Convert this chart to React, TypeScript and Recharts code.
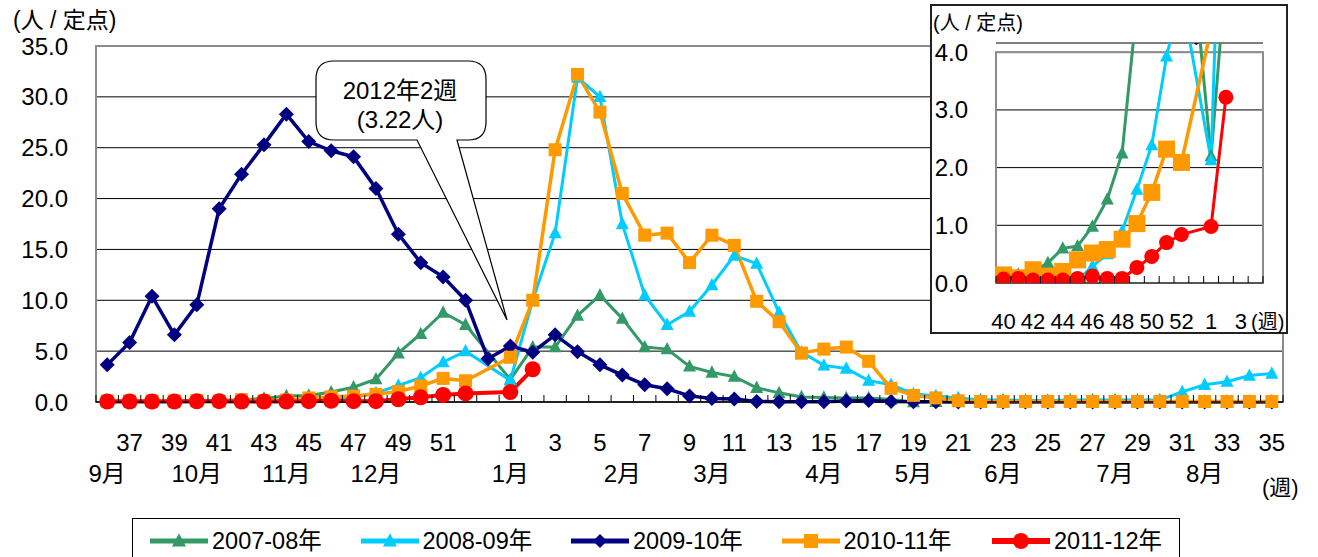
import React from "react";
import {
  ComposedChart,
  Line,
  XAxis,
  YAxis,
  CartesianGrid,
  ReferenceArea,
} from "recharts";

// weeks of the season: 36..53 then 1..35
const weeks = [
  "36", "37", "38", "39", "40", "41", "42", "43", "44", "45", "46", "47", "48", "49", "50", "51", "52", "53",
  "1", "2", "3", "4", "5", "6", "7", "8", "9", "10", "11", "12", "13", "14", "15", "16", "17", "18",
  "19", "20", "21", "22", "23", "24", "25", "26", "27", "28", "29", "30", "31", "32", "33", "34", "35",
];

const weekTickLabels = [
  "37", "39", "41", "43", "45", "47", "49", "51",
  "1", "3", "5", "7", "9", "11", "13", "15", "17", "19", "21", "23", "25", "27", "29", "31", "33", "35",
];

const monthTicks = [
  { week: "36", label: "9月" },
  { week: "40", label: "10月" },
  { week: "44", label: "11月" },
  { week: "48", label: "12月" },
  { week: "1", label: "1月" },
  { week: "6", label: "2月" },
  { week: "10", label: "3月" },
  { week: "15", label: "4月" },
  { week: "19", label: "5月" },
  { week: "23", label: "6月" },
  { week: "28", label: "7月" },
  { week: "32", label: "8月" },
];

const insetWeekLabels = ["40", "42", "44", "46", "48", "50", "52", "1", "3"];

const s0708 = [
  0.1, 0.1, 0.1, 0.1, 0.12, 0.15, 0.2, 0.35, 0.6, 0.64, 0.98, 1.45, 2.25, 4.8, 6.7, 8.8, 7.6, null,
  2.2, 5.4, 5.4, 8.5, 10.5, 8.2, 5.4, 5.2, 3.5, 2.9, 2.5, 1.4, 0.9, 0.5, 0.45, 0.4, 0.4, 0.25,
  0.0, 0.03, 0.03, 0.03, 0.03, 0.03, 0.03, 0.03, 0.03, 0.03, 0.03, 0.03, 0.03, 0.03, 0.03, 0.03, 0.03,
];

const s0809 = [
  0, 0, 0, 0, 0, 0.02, 0, 0.02, 0.05, 0.05, 0.29, 0.5, 0.9, 1.62, 2.39, 3.93, 5.0, null,
  2.13, 10.0, 16.6, 31.9, 30.0, 17.5, 10.5, 7.6, 8.9, 11.5, 14.4, 13.6, 8.8, 4.9, 3.6, 3.3, 2.1, 1.7,
  0.8, 0.6, 0.4, 0.2, 0.2, 0.15, 0.15, 0.2, 0.2, 0.2, 0.2, 0.2, 1.0, 1.7, 2.0, 2.6, 2.8,
];

const s0910 = [
  3.65, 5.85, 10.4, 6.6, 9.55, 19.0, 22.4, 25.3, 28.3, 25.6, 24.7, 24.1, 21.0, 16.5, 13.7, 12.3, 10.0, 4.25,
  5.5, 4.9, 6.6, 4.95, 3.65, 2.65, 1.7, 1.3, 0.6, 0.35, 0.3, 0.05, 0.02, 0.02, 0.02, 0.1, 0.15, 0.05,
  0.02, 0.02, 0, 0, 0, 0, 0, 0, 0, 0, 0, 0, 0, 0, 0, 0, 0,
];

const s1011 = [
  0.1, 0.1, 0.1, 0.1, 0.14, 0.09, 0.23, 0.12, 0.2, 0.4, 0.52, 0.58, 0.76, 1.03, 1.57, 2.32, 2.09, null,
  4.4, 10.0, 24.8, 32.2, 28.5, 20.5, 16.4, 16.6, 13.7, 16.4, 15.4, 9.9, 7.9, 4.8, 5.2, 5.4, 4.0, 1.35,
  0.65, 0.4, 0.12, 0.05, 0.05, 0.05, 0.05, 0.05, 0.05, 0.05, 0.05, 0.05, 0.05, 0.05, 0.05, 0.05, 0.05,
];

const s1112 = [
  0.05, 0.05, 0.05, 0.05, 0.07, 0.08, 0.05, 0.05, 0.05, 0.08, 0.12, 0.08, 0.08, 0.27, 0.46, 0.7, 0.84, null,
  0.98, 3.22, null, null, null, null, null, null, null, null, null, null, null, null, null, null, null, null,
  null, null, null, null, null, null, null, null, null, null, null, null, null, null, null, null, null,
];

const series = [
  { key: "s0708", name: "2007-08年", color: "#339966", shape: "triangle", values: s0708, width: 3 },
  { key: "s0809", name: "2008-09年", color: "#00CCFF", shape: "triangle", values: s0809, width: 3 },
  { key: "s0910", name: "2009-10年", color: "#000080", shape: "diamond", values: s0910, width: 3.5 },
  { key: "s1011", name: "2010-11年", color: "#FF9900", shape: "square", values: s1011, width: 3.5 },
  { key: "s1112", name: "2011-12年", color: "#FF0000", shape: "circle", values: s1112, width: 4 },
];

const mainData = weeks.map((w, i) => {
  const row: any = { week: w };
  series.forEach((s) => (row[s.key] = s.values[i]));
  return row;
});
// inset shows weeks 40 .. 4
const insetData = mainData.slice(4, 22);

const FONT = "'Liberation Sans', Arial, 'Noto Sans CJK JP', sans-serif";
const MAIN_BW = 1187 / weeks.length;
const INSET_BW = 267 / insetData.length;

function marker(shape: string, cx: number, cy: number, size: number, color: string, key: any) {
  const h = size / 2;
  if (shape === "triangle")
    return (
      <polygon key={key} fill={color}
        points={`${cx},${cy - h * 1.1} ${cx + h},${cy + h * 0.8} ${cx - h},${cy + h * 0.8}`} />
    );
  if (shape === "diamond")
    return (
      <polygon key={key} fill={color}
        points={`${cx},${cy - h} ${cx + h},${cy} ${cx},${cy + h} ${cx - h},${cy}`} />
    );
  if (shape === "square")
    return <rect key={key} x={cx - h} y={cy - h} width={size} height={size} fill={color} />;
  return <circle key={key} cx={cx} cy={cy} r={h} fill={color} />;
}

function dotFor(shape: string, size: number, color: string) {
  return (p: any) => {
    const k = "d" + p.index;
    if (p.cy == null || p.value == null || isNaN(p.cy)) return <g key={k} />;
    return marker(shape, p.cx, p.cy, size, color, k);
  };
}

const mainSizes: any = { triangle: 13, diamond: 15, square: 13, circle: 16 };
const insetSizes: any = { triangle: 13, diamond: 15, square: 17, circle: 15 };

function MainTick(props: any) {
  const { x, y, payload, index } = props;
  const wk = payload.value;
  const month = monthTicks.find((m) => m.week === wk);
  return (
    <g>
      <line x1={x - MAIN_BW / 2} y1={y} x2={x - MAIN_BW / 2} y2={y - 7} stroke="#000" />
      {index === weeks.length - 1 && (
        <line x1={x + MAIN_BW / 2} y1={y} x2={x + MAIN_BW / 2} y2={y - 7} stroke="#000" />
      )}
      {weekTickLabels.includes(wk) && (
        <text x={x} y={y + 49} textAnchor="middle" fontSize={24} fontFamily={FONT} fill="#000">
          {wk}
        </text>
      )}
      {month && (
        <text x={x} y={y + 80} textAnchor="middle" fontSize={24} fontFamily={FONT} fill="#000">
          {month.label}
        </text>
      )}
    </g>
  );
}

function InsetTick(props: any) {
  const { x, y, payload, index } = props;
  const wk = payload.value;
  return (
    <g>
      <line x1={x - INSET_BW / 2} y1={y} x2={x - INSET_BW / 2} y2={y - 7} stroke="#000" />
      {index === insetData.length - 1 && (
        <line x1={x + INSET_BW / 2} y1={y} x2={x + INSET_BW / 2} y2={y - 7} stroke="#000" />
      )}
      {insetWeekLabels.includes(wk) && (
        <text x={x} y={y + 46} textAnchor="middle" fontSize={22} fontFamily={FONT} fill="#000">
          {wk}
        </text>
      )}
    </g>
  );
}

function Legend() {
  return (
    <div
      style={{
        position: "absolute", left: 132, top: 518, width: 1048, height: 46,
        border: "1.5px solid #000", boxSizing: "border-box", display: "flex",
        alignItems: "center", paddingLeft: 17, background: "#fff", fontFamily: FONT,
      }}
    >
      {series.map((s) => (
        <div key={s.key} style={{ width: 210.5, display: "flex", alignItems: "center", flex: "none" }}>
          <svg width={58} height={20}>
            <line x1={0} y1={10} x2={58} y2={10} stroke={s.color} strokeWidth={s.key === "s1112" ? 6 : 5} />
            {marker(s.shape, 29, 10, s.shape === "circle" ? 16 : 14, s.color, "m")}
          </svg>
          <span style={{ marginLeft: 4, fontSize: 23.5, lineHeight: "26px", color: "#000", whiteSpace: "nowrap" }}>
            {s.name}
          </span>
        </div>
      ))}
    </div>
  );
}

export default function App() {
  return (
    <div style={{ position: "absolute", left: 0, top: 0, width: 1318, height: 557, overflow: "hidden", background: "#fff" }}>
      <div style={{ position: "absolute", left: 0, top: 0 }}>
        <ComposedChart width={1318} height={557} data={mainData} margin={{ top: 46, right: 35, bottom: 0, left: 0 }}>
          <CartesianGrid vertical={false} stroke="#000" strokeWidth={1} />
          <ReferenceArea y1={0} y2={35} fill="none" stroke="#8c8c8c" strokeWidth={2} />
          <XAxis
            dataKey="week"
            scale="band"
            interval={0}
            tickSize={0}
            tickMargin={0}
            tickLine={false}
            axisLine={{ stroke: "#000", strokeWidth: 1.5 }}
            height={155}
            tick={(p: any) => <MainTick {...p} />}
          />
          <YAxis
            domain={[0, 35]}
            ticks={[0, 5, 10, 15, 20, 25, 30, 35]}
            width={96}
            tickSize={0}
            tickMargin={28}
            axisLine={false}
            tickLine={false}
            tickFormatter={(v: number) => v.toFixed(1)}
            tick={{ fontSize: 24, fill: "#000", fontFamily: FONT }}
          />
          {series.map((s) => (
            <Line
              key={s.key}
              type="linear"
              dataKey={s.key}
              name={s.name}
              stroke={s.color}
              strokeWidth={s.width}
              dot={dotFor(s.shape, mainSizes[s.shape], s.color)}
              activeDot={false}
              connectNulls
              isAnimationActive={false}
            />
          ))}
        </ComposedChart>
      </div>

      <svg width={1318} height={557} style={{ position: "absolute", left: 0, top: 0, pointerEvents: "none" }}>
        <text x={13} y={28} fontSize={23} fontFamily={FONT} fill="#000">(人 / 定点)</text>
        <text x={1262} y={495} fontSize={22} fontFamily={FONT} fill="#000">(週)</text>
        <path
          d="M334,61 H468 Q486,61 486,79 V122 Q486,140 468,140 H457 L507,320 L417,140 H334 Q316,140 316,122 V79 Q316,61 334,61 Z"
          fill="#fff"
          stroke="#000"
          strokeWidth={1.2}
        />
        <text x={400} y={99} textAnchor="middle" fontSize={24} fontFamily={FONT} fill="#000">2012年2週</text>
        <text x={400} y={128} textAnchor="middle" fontSize={24} fontFamily={FONT} fill="#000">(3.22人)</text>
      </svg>

      <div
        style={{
          position: "absolute", left: 930, top: 4, width: 358, height: 330,
          border: "2px solid #222", boxSizing: "border-box", background: "#fff",
        }}
      >
        <ComposedChart width={354} height={334} data={insetData} margin={{ top: 37, right: 23, bottom: 8, left: 0 }}>
          <CartesianGrid vertical={false} stroke="#000" strokeWidth={1} />
          <ReferenceArea y1={0} y2={4} fill="none" stroke="#8c8c8c" strokeWidth={2} />
          <XAxis
            dataKey="week"
            scale="band"
            interval={0}
            tickSize={0}
            tickMargin={0}
            tickLine={false}
            axisLine={{ stroke: "#444", strokeWidth: 1.5 }}
            height={49}
            tick={(p: any) => <InsetTick {...p} />}
          />
          <YAxis
            domain={[0, 4.16]}
            allowDataOverflow
            ticks={[0, 1, 2, 3, 4]}
            width={64}
            tickSize={0}
            tickMargin={28}
            axisLine={false}
            tickLine={false}
            tickFormatter={(v: number) => v.toFixed(1)}
            tick={{ fontSize: 24, fill: "#000", fontFamily: FONT }}
          />
          {series.map((s) => (
            <Line
              key={s.key}
              type="linear"
              dataKey={s.key}
              name={s.name}
              stroke={s.color}
              strokeWidth={s.key === "s1011" ? 3.5 : 3}
              dot={dotFor(s.shape, insetSizes[s.shape], s.color)}
              activeDot={false}
              connectNulls
              isAnimationActive={false}
            />
          ))}
        </ComposedChart>
      </div>

      <svg width={1318} height={557} style={{ position: "absolute", left: 0, top: 0, pointerEvents: "none" }}>
        <text x={933} y={30} fontSize={20} fontFamily={FONT} fill="#000">(人 / 定点)</text>
        <text x={1251} y={329} fontSize={20} fontFamily={FONT} fill="#000">(週)</text>
      </svg>

      <Legend />
    </div>
  );
}
